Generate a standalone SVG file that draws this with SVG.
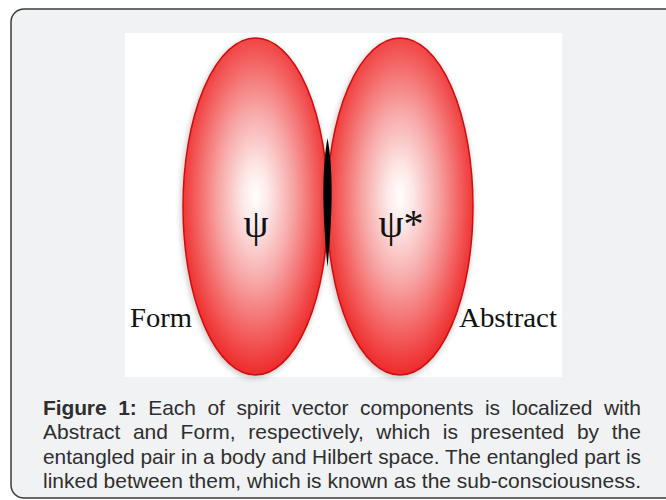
<svg xmlns="http://www.w3.org/2000/svg" width="666" height="500" viewBox="0 0 666 500">
  <defs>
    <radialGradient id="lobe" cx="0.5" cy="0.47" r="0.52">
      <stop offset="0" stop-color="#ffffff"/>
      <stop offset="0.18" stop-color="#fde6e6"/>
      <stop offset="0.5" stop-color="#f7a5a5"/>
      <stop offset="0.8" stop-color="#f35d5d"/>
      <stop offset="1" stop-color="#ee2e2e"/>
    </radialGradient>
    <filter id="shadow" x="-20%" y="-10%" width="140%" height="120%">
      <feGaussianBlur in="SourceAlpha" stdDeviation="3"/>
      <feOffset dx="-1" dy="2" result="b"/>
      <feComponentTransfer><feFuncA type="linear" slope="0.25"/></feComponentTransfer>
      <feMerge><feMergeNode/><feMergeNode in="SourceGraphic"/></feMerge>
    </filter>
    <style>
      .lobe { fill: url(#lobe); stroke: #d01010; stroke-width: 1.5; }
      .greek { font-family: "Liberation Serif", "Times New Roman", serif; font-size: 40px; fill: #111; text-anchor: middle; }
      .label { font-family: "Liberation Serif", "Times New Roman", serif; font-size: 28px; fill: #111; }
      .cap { font-family: "Liberation Sans", Arial, sans-serif; font-size: 21px; fill: #2e2e2e; }
      .cap .b { font-weight: bold; }
    </style>
  </defs>

  <rect id="panel" x="11" y="9" width="680" height="489" rx="13" ry="13" fill="#f1f2f4" stroke="#3c3c3c" stroke-width="1.5"/>
  <rect id="figure-bg" x="125" y="33" width="437" height="344" fill="#ffffff"/>

  <g id="connectors"/>

  <g id="psi" filter="url(#shadow)">
    <ellipse class="lobe" cx="255.5" cy="206.5" rx="72.5" ry="168.5"/>
  </g>
  <g id="psi-star" filter="url(#shadow)">
    <ellipse class="lobe" cx="400" cy="206.5" rx="73" ry="168.5"/>
  </g>
  <g id="entangled-part">
    <path d="M327.5,138 C332.5,165 333.5,205 327.5,267 C321.5,205 322.5,165 327.5,138 Z" fill="#000"/>
  </g>
  <g id="psi-label">
    <text class="greek" x="256" y="237">ψ</text>
  </g>
  <g id="psi-star-label">
    <text class="greek" x="401" y="237">ψ*</text>
  </g>
  <g id="form">
    <text class="label" x="130" y="327" textLength="62" lengthAdjust="spacingAndGlyphs">Form</text>
  </g>
  <g id="abstract">
    <text class="label" x="459" y="327" textLength="98" lengthAdjust="spacingAndGlyphs">Abstract</text>
  </g>

  <g id="caption">
    <text class="cap" x="43" y="414.5" word-spacing="6" textLength="598" lengthAdjust="spacing"><tspan class="b">Figure 1:</tspan> Each of spirit vector components is localized with</text>
    <text class="cap" x="43" y="439" word-spacing="6.7" textLength="598" lengthAdjust="spacing">Abstract and Form, respectively, which is presented by the</text>
    <text class="cap" x="43" y="463.5" textLength="598" lengthAdjust="spacingAndGlyphs">entangled pair in a body and Hilbert space. The entangled part is</text>
    <text class="cap" x="43" y="488" textLength="598" lengthAdjust="spacingAndGlyphs">linked between them, which is known as the sub-consciousness.</text>
  </g>
</svg>
